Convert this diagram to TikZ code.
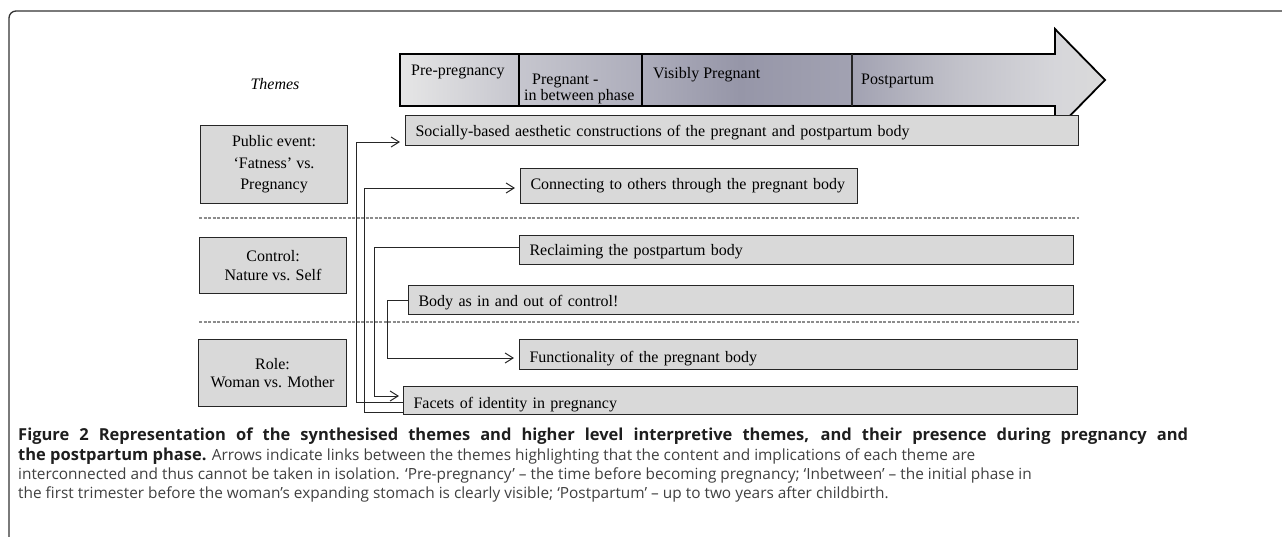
\documentclass[tikz,border=0pt]{standalone}
\usepackage{fontspec}
\setmainfont{Liberation Serif}
\newfontfamily\capfont{Open Sans}
\usetikzlibrary{arrows.meta}
\definecolor{boxfill}{HTML}{D9D9D9}
\definecolor{edgec}{HTML}{262626}
\definecolor{dashgray}{HTML}{8C8C8C}
\definecolor{framec}{HTML}{333333}
\definecolor{captxt}{HTML}{404040}
\definecolor{capbold}{HTML}{1E1E1E}
\definecolor{sha}{HTML}{E6E6E6}
\definecolor{shb}{HTML}{C6C6CE}
\definecolor{shc}{HTML}{ADADBB}
\definecolor{shd}{HTML}{9696A8}
\definecolor{she}{HTML}{A2A2B2}
\definecolor{shf}{HTML}{C2C2CA}
\definecolor{shg}{HTML}{D6D6DA}
\definecolor{shh}{HTML}{DADADA}
\pgfdeclarehorizontalshading{timeline}{100bp}{color(0bp)=(sha); color(25bp)=(sha); color(33.4bp)=(shb); color(42.2bp)=(shc); color(49.1bp)=(shd); color(57.1bp)=(she); color(64.7bp)=(shf); color(71.5bp)=(shg); color(75bp)=(shh); color(100bp)=(shh)}
\newcommand{\capbf}[1]{{\color{capbold}\fontsize{16.5}{19}\selectfont\bfseries #1}}
\tikzset{
  diag/.style={font=\fontsize{16}{19}\selectfont},
  theme/.style={draw=edgec, fill=boxfill, line width=1.1pt, inner xsep=10pt, inner ysep=0pt,
    align=left, anchor=north west, diag},
  tb/.style n args={3}{text width=#1pt, text height=#2pt, text depth=#3pt},
  hibox/.style={draw=edgec, fill=boxfill, line width=1.1pt, inner sep=0pt, align=center,
    anchor=north west, diag},
  phase/.style={diag, anchor=base west, inner sep=0pt},
  conn/.style={draw=edgec, line width=1pt},
  arr/.style={conn, -{Straight Barb[length=8pt,width=10pt,line width=1pt]}, shorten >=1pt},
  sep/.style={draw=dashgray, line width=1.2pt, dash pattern=on 3pt off 1.5pt},
  capline/.style={anchor=base west, inner sep=0pt, font=\capfont\fontsize{15.4}{19}\selectfont, text=captxt},
}
\begin{document}
\begin{tikzpicture}[x=1pt,y=-1pt]
\useasboundingbox (0,0) rectangle (1282,536);
% frame
\draw[framec, line width=1.3pt, rounded corners=7pt] (9,545) -- (9,11) -- (1290,11);

% timeline arrow
\path[shading=timeline] (400,54) -- (1055,54) -- (1055,29) -- (1105,80) -- (1055,131) -- (1055,106) -- (400,106) -- cycle;
\draw[black, line width=1.8pt, line join=miter] (400,54) -- (1055,54) -- (1055,29) -- (1105,80) -- (1055,131) -- (1055,106) -- (400,106) -- cycle;
\draw[black, line width=2pt] (400,54) rectangle (519,106);
\draw[edgec, line width=1.2pt] (642,54) -- (642,106);
\draw[black, line width=2pt] (642,106) -- (642,54) -- (852,54);
\draw[edgec, line width=1.2pt] (852,54) -- (852,106);
\node[phase] (pre) at (411,75) {Pre-pregnancy};
\node[diag, anchor=north west, inner sep=0pt, align=left, font=\fontsize{16}{14}\selectfont] (betw) at (524,74) {\hspace*{8pt}Pregnant -\\in between phase};
\node[phase] (vis) at (653,78) {Visibly Pregnant};
\node[phase] (post) at (861,84) {Postpartum};

\node[diag, font=\fontsize{16}{19}\selectfont\itshape, anchor=base] (themes) at (275,89) {Themes};

% higher level themes
\node[hibox, minimum width=147pt, minimum height=78pt, font=\fontsize{16}{21.5}\selectfont] (pub) at (200,125) {Public event:\\‘Fatness’ vs.\\Pregnancy};
\node[hibox, minimum width=147pt, minimum height=56pt] (ctl) at (199,237) {Control:\\Nature vs. Self};
\node[hibox, minimum width=148pt, minimum height=67pt, font=\fontsize{16}{18}\selectfont] (role) at (198,339) {Role:\\Woman vs. Mother};

% separators
\draw[sep] (199,218) -- (1079,218);
\draw[sep] (199,322) -- (1079,322);

% synthesised themes
\node[theme, tb={653}{21}{9}] (soc) at (405,115) {Socially-based aesthetic constructions of the pregnant and postpartum body};
\node[theme, tb={317}{21}{14}] (con) at (520,168) {Connecting to others through the pregnant body};
\node[theme, tb={534}{20}{9}] (rec) at (519,235) {Reclaiming the postpartum body};
\node[theme, tb={645}{21}{8}] (bod) at (408,285) {Body as in and out of control!};
\node[theme, tb={538}{23}{7}] (fun) at (519,339) {Functionality of the pregnant body};
\node[theme, tb={654}{22}{6}] (fac) at (403,386) {Facets of identity in pregnancy};

% connectors
\draw[arr] ([yshift=-2pt]fac.west) -| (356,142) -- ([xshift=-4pt]soc.west |- 0,142);
\draw[arr] ([yshift=-12pt]fac.west) -| (364,188) -- ([xshift=-4pt]con.west |- 0,188);
\draw[arr] ([yshift=2.5pt]rec.west) -| (374,396) -- ([xshift=-3pt]fac.west |- 0,396);
\draw[arr] (bod.west) -| (387,358) -- ([xshift=-4pt]fun.west |- 0,358);

% caption
\node[capline] (cap1) at (18,440) {\capbf{\makebox[1170pt][s]{Figure 2 Representation of the synthesised themes and higher level interpretive themes, and their presence during pregnancy and}}};
\node[capline] (cap2) at (18,460) {\capbf{the postpartum phase.} Arrows indicate links between the themes highlighting that the content and implications of each theme are};
\node[capline] (cap3) at (18,479) {interconnected and thus cannot be taken in isolation. ‘Pre-pregnancy’ – the time before becoming pregnancy; ‘Inbetween’ – the initial phase in};
\node[capline] (cap4) at (18,498) {the first trimester before the woman’s expanding stomach is clearly visible; ‘Postpartum’ – up to two years after childbirth.};
\end{tikzpicture}
\end{document}
